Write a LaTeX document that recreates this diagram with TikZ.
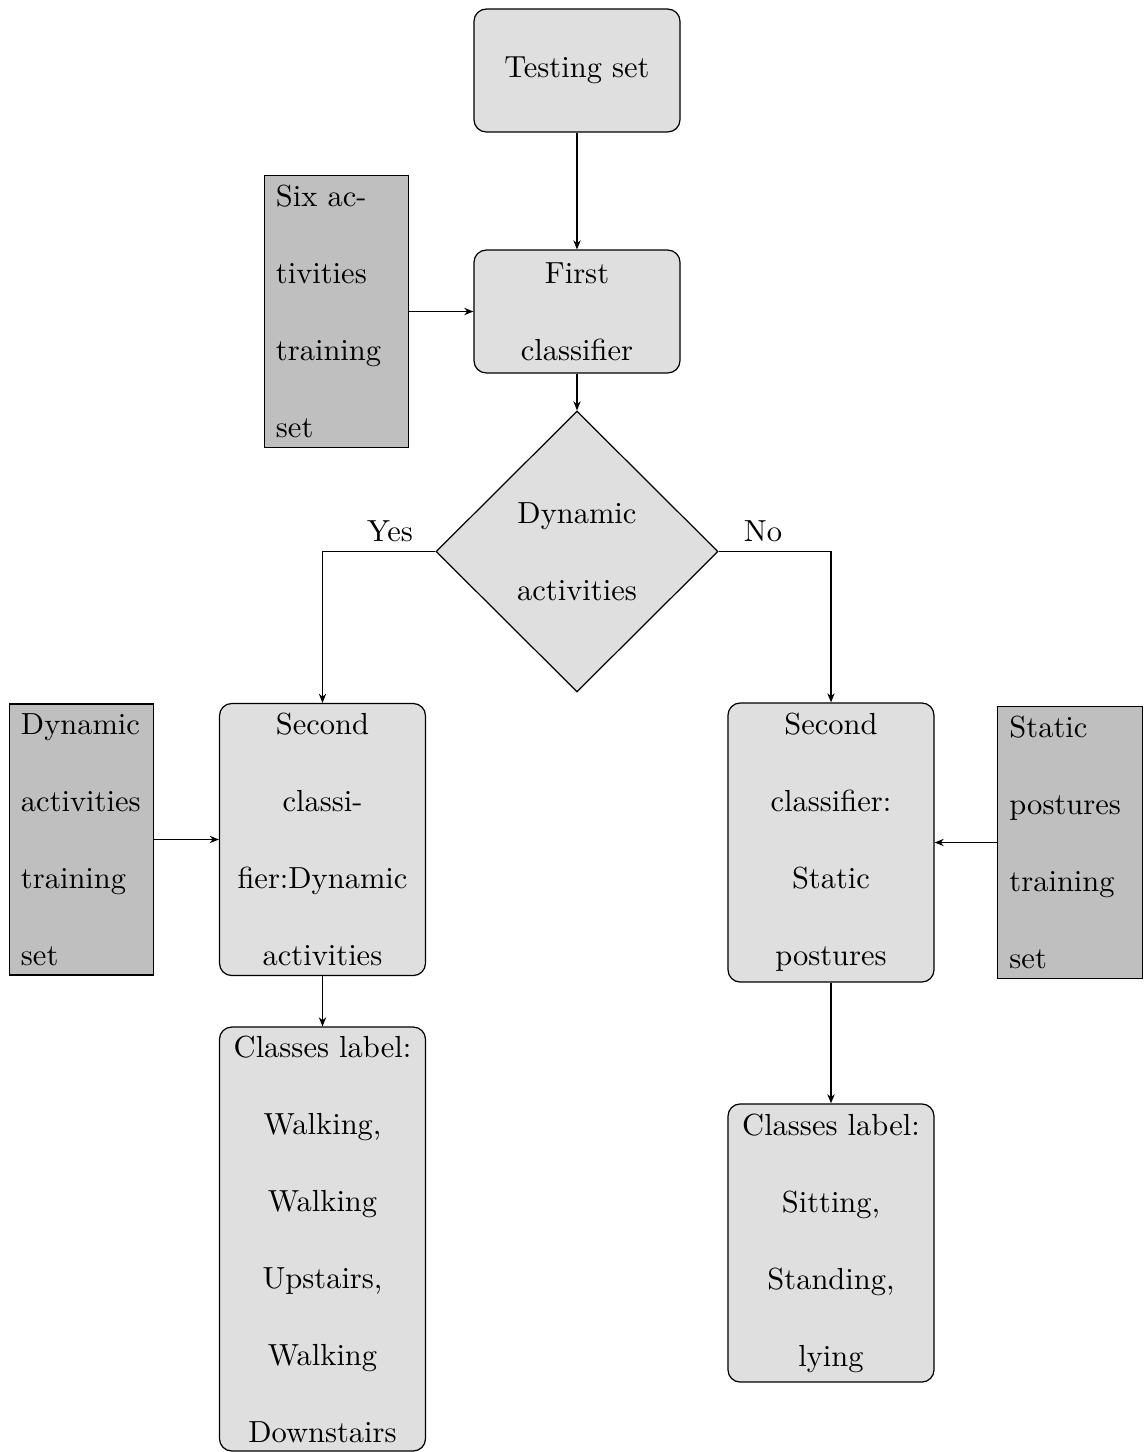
\documentclass[tikz,border=0pt]{standalone}
\usetikzlibrary{shapes.geometric,arrows.meta}
\begin{document}
\begin{tikzpicture}[
  x=0.3279pt, y={(0pt,-0.3279pt)},
  font=\fontsize{10}{25.25}\selectfont,
  lightbox/.style={draw, fill=gray!25, rounded corners=4pt, align=center,
    inner xsep=3pt, inner ysep=2pt, text width=61.5pt, minimum width=67.55pt},
  darkbox/.style={draw, fill=gray!50, align=left,
    inner xsep=3.8pt, inner ysep=2pt, text width=39.7pt, minimum width=47.3pt},
  decision/.style={draw, fill=gray!25, diamond, aspect=1, inner sep=0pt,
    align=center, text width=42pt, minimum width=92.5pt, minimum height=92.1pt},
  arr/.style={-{Stealth[length=3pt,width=2.4pt]}, line width=0.4pt},
  lbl/.style={inner sep=0pt}
]
\useasboundingbox (0,0) rectangle (1144,1452);

% top of the flow
\node[lightbox, minimum height=40.3pt] (test) at (577,70.5) {Testing set};
\node[lightbox, minimum height=40.3pt] (first) at (577,311.5) {First\\classifier};
\node[darkbox, minimum height=89.2pt] (six) at (336.5,311.5) {Six ac-\\tivities\\training\\set};

% decision
\node[decision] (dec) at (577,551.5) {Dynamic\\activities};

% dynamic branch
\node[lightbox, minimum height=89.2pt] (secdyn) at (322.5,839.5) {Second\\classi-\\fier:Dynamic\\activities};
\node[darkbox, minimum height=88.9pt] (dyntrain) at (81.5,839.5) {Dynamic\\activities\\training\\set};
\node[lightbox, minimum height=139pt] (clsdyn) at (322.5,1239) {Classes label:\\Walking,\\Walking\\Upstairs,\\Walking\\Downstairs};

% static branch
\node[lightbox, minimum height=91.5pt] (secstat) at (831,842.5) {Second\\classifier:\\Static\\postures};
\node[darkbox, minimum height=89.2pt] (stattrain) at (1070,842.5) {Static\\postures\\training\\set};
\node[lightbox, minimum height=91.2pt] (clsstat) at (831,1243) {Classes label:\\Sitting,\\Standing,\\lying};

% connectors
\draw[arr] (test) -- (first);
\draw[arr] (six.east) -- (first.west);
\draw[arr] (first) -- (dec);
\draw[arr] (dec.west) -| (secdyn.north);
\draw[arr] (dec.east) -| (secstat.north);
\draw[arr] (dyntrain.east) -- (secdyn.west);
\draw[arr] (stattrain.west) -- (secstat.east);
\draw[arr] (secdyn) -- (clsdyn);
\draw[arr] (secstat) -- (clsstat);

% branch labels
\node[lbl] (yes) at (390,531) {Yes};
\node[lbl] (no) at (763,531) {No};
\end{tikzpicture}
\end{document}
